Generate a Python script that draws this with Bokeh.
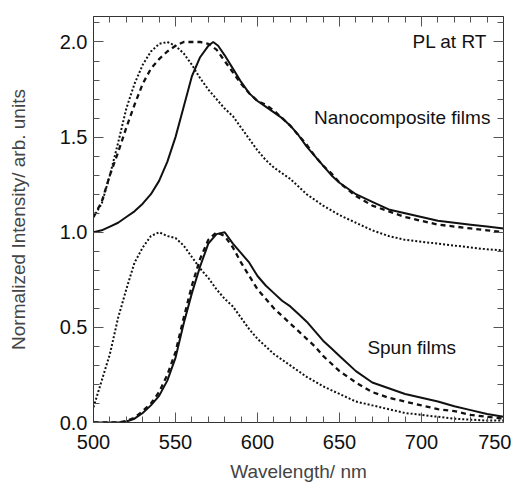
from bokeh.plotting import figure
from bokeh.models import LinearAxis, FixedTicker, Range1d, Label
from bokeh.embed import file_html
from bokeh.resources import INLINE

# ---- data ----
nano_solid_wl = [500,505,510,515,520,525,530,535,540,545,550,555,560,565,570,573,576,580,585,590,595,
                 600,605,610,615,620,625,630,635,640,645,650,660,670,680,690,700,710,720,730,740,750]
nano_solid = [1.0,1.01,1.03,1.05,1.08,1.11,1.15,1.20,1.27,1.37,1.50,1.66,1.82,1.92,1.98,2.0,1.98,1.93,1.86,1.79,1.73,
              1.69,1.66,1.63,1.60,1.56,1.51,1.45,1.40,1.35,1.30,1.26,1.20,1.16,1.12,1.10,1.08,1.06,1.05,1.04,1.03,1.02]

nano_dash_wl = [500,505,510,515,520,525,530,535,540,545,550,555,560,565,570,575,580,585,590,595,
                600,605,610,615,620,625,630,635,640,645,650,660,670,680,690,700,710,720,730,740,750]
nano_dash = [1.08,1.16,1.30,1.42,1.55,1.67,1.78,1.86,1.91,1.95,1.98,2.0,2.0,2.0,1.99,1.96,1.90,1.84,1.78,1.73,
             1.69,1.67,1.64,1.60,1.56,1.51,1.46,1.40,1.35,1.31,1.26,1.19,1.14,1.11,1.08,1.06,1.04,1.03,1.02,1.01,1.0]

nano_dot_wl = [500,505,510,515,520,525,530,535,540,545,550,555,560,565,570,575,580,585,590,595,
               600,605,610,615,620,625,630,640,650,660,670,680,690,700,710,720,730,740,750]
nano_dot = [1.08,1.15,1.30,1.47,1.65,1.78,1.88,1.95,1.99,2.0,1.98,1.94,1.88,1.81,1.75,1.70,1.65,1.61,1.55,1.49,
            1.43,1.38,1.34,1.31,1.28,1.24,1.20,1.14,1.09,1.05,1.01,0.98,0.96,0.95,0.94,0.93,0.92,0.91,0.905]

spun_wl = [500,510,515,520,525,530,535,540,545,550,555,560,565,570,575,580,585,590,595,
           600,605,610,615,620,625,630,635,640,645,650,660,670,680,690,700,710,720,730,740,750]
spun_solid = [0.0,0.0,0.0,0.005,0.02,0.05,0.09,0.14,0.22,0.34,0.52,0.68,0.82,0.94,0.99,1.0,0.94,0.89,0.84,
              0.77,0.72,0.68,0.64,0.61,0.57,0.53,0.48,0.43,0.39,0.35,0.27,0.21,0.18,0.15,0.13,0.11,0.085,0.065,0.045,0.03]
spun_dash = [0.0,0.0,0.0,0.008,0.025,0.06,0.10,0.16,0.25,0.37,0.55,0.72,0.86,0.96,1.0,0.98,0.92,0.84,0.77,
             0.70,0.65,0.60,0.56,0.52,0.48,0.44,0.40,0.35,0.31,0.27,0.21,0.16,0.13,0.11,0.09,0.07,0.06,0.04,0.03,0.02]

spun_dot_wl = [500,505,510,515,520,525,530,535,540,545,550,555,560,565,570,575,580,585,590,595,
               600,610,620,630,640,650,660,670,680,690,700,710,720,730,740,750]
spun_dot = [0.08,0.22,0.36,0.55,0.70,0.84,0.92,0.98,1.0,0.98,0.97,0.93,0.87,0.81,0.76,0.70,0.65,0.61,0.55,0.49,
            0.44,0.36,0.30,0.24,0.19,0.15,0.11,0.09,0.07,0.05,0.04,0.03,0.02,0.015,0.01,0.01]

x_major = [500, 550, 600, 650, 700, 750]
x_minor = list(range(500, 751, 10))
y_major = [0.0, 0.5, 1.0, 1.5, 2.0]
y_minor = [i / 10 for i in range(0, 22)]
y_tick_labels = ["0.0", "0.5", "1.0", "1.5", "2.0"]

FONT = "Liberation Sans"
INK = "#111111"

p = figure(frame_width=410, frame_height=406, output_backend="svg", toolbar_location=None,
           x_range=Range1d(500, 750), y_range=Range1d(0, 2.134),
           min_border_left=93, min_border_right=8, min_border_top=16, min_border_bottom=50,
           x_axis_label="Wavelength/ nm", y_axis_label="Normalized Intensity/ arb. units")
p.grid.visible = False
p.outline_line_color = None
p.background_fill_color = "white"
p.border_fill_color = "white"

def style_axis(ax, ticks, minor, labels=True):
    ax.ticker = FixedTicker(ticks=ticks, minor_ticks=minor)
    ax.major_tick_in = 10
    ax.major_tick_out = 0
    ax.minor_tick_in = 6
    ax.minor_tick_out = 0
    ax.axis_line_color = "#333333"
    ax.major_tick_line_color = "#555555"
    ax.minor_tick_line_color = "#555555"
    if labels:
        ax.major_label_text_font = FONT
        ax.major_label_text_font_size = "20px"
        ax.major_label_text_color = "#111111"
        ax.axis_label_text_font = FONT
        ax.axis_label_text_font_size = "19px"
        ax.axis_label_text_font_style = "normal"
        ax.axis_label_text_color = "#444444"
    else:
        ax.major_label_overrides = {t: "" for t in ticks}
        ax.major_label_standoff = 0

xa = p.xaxis[0]
ya = p.yaxis[0]
style_axis(xa, x_major, x_minor)
style_axis(ya, y_major, y_minor)
xa.major_label_standoff = 12
xa.axis_label_standoff = 9
ya.major_label_standoff = 6
ya.axis_label_standoff = 28
ya.major_label_overrides = dict(zip(y_major, y_tick_labels))

top = LinearAxis()
style_axis(top, x_major, x_minor, labels=False)
p.add_layout(top, "above")
right = LinearAxis()
style_axis(right, y_major, y_minor, labels=False)
p.add_layout(right, "right")

lw = 2
p.line(nano_solid_wl, nano_solid, line_color=INK, line_width=lw)
p.line(nano_dash_wl, nano_dash, line_color=INK, line_width=2.3, line_dash="5 4")
p.line(nano_dot_wl, nano_dot, line_color=INK, line_width=lw, line_dash="2 2")
p.line(spun_wl, spun_solid, line_color=INK, line_width=lw)
p.line(spun_wl, spun_dash, line_color=INK, line_width=2.3, line_dash="5 4")
p.line(spun_dot_wl, spun_dot, line_color=INK, line_width=lw, line_dash="2 2")

p.add_layout(Label(x=740, y=2.0, text="PL at RT", text_align="right", text_baseline="middle",
                   text_font=FONT, text_font_size="19px", text_color=INK))
p.add_layout(Label(x=742, y=1.605, text="Nanocomposite films", text_align="right", text_baseline="middle",
                   text_font=FONT, text_font_size="19px", text_color=INK))
p.add_layout(Label(x=667, y=0.395, text="Spun films", text_align="left", text_baseline="middle",
                   text_font=FONT, text_font_size="19px", text_color=INK))

open("out.html", "w").write(file_html(p, INLINE))
